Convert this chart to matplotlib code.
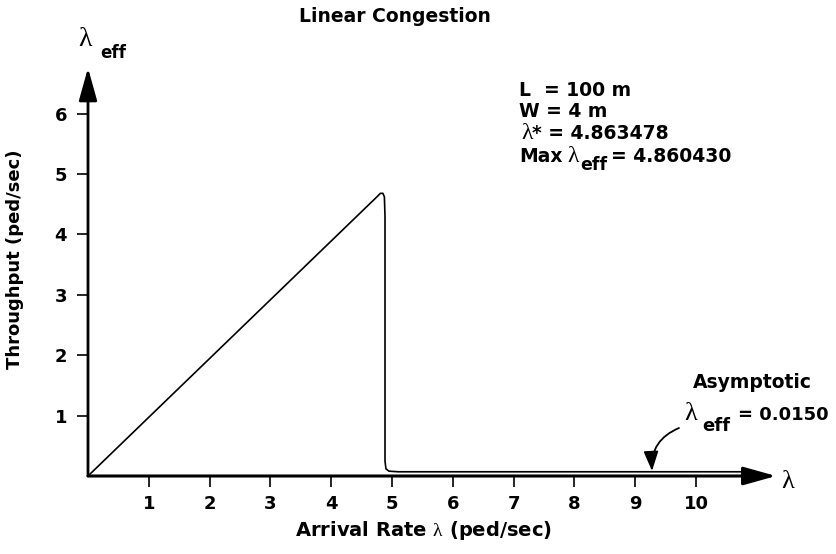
import numpy as np
import matplotlib.pyplot as plt

plt.rcParams['font.family'] = ['DejaVu Sans']
plt.rcParams['mathtext.fontset'] = 'custom'
plt.rcParams['mathtext.rm'] = 'Liberation Serif'
plt.rcParams['mathtext.it'] = 'Liberation Serif'
plt.rcParams['mathtext.default'] = 'rm'

# throughput curve
arrival = [0, 4.75, 4.81, 4.85, 4.875, 4.885, 4.885, 4.9, 4.95, 5.1, 10.9]
throughput = [0, 4.62, 4.68, 4.68, 4.62, 4.3, 0.25, 0.12, 0.08, 0.07, 0.07]

x_ticks = [1, 2, 3, 4, 5, 6, 7, 8, 9, 10]
y_ticks = [1, 2, 3, 4, 5, 6]

W, H = 837, 554
X0, Y0, SX, SY = 88, 476, 60.8, 60.4  # pixel origin and px per unit


def px(x, y):
    # pixel position -> data position (axes fill the whole figure)
    return (x - X0) / SX, (Y0 - y) / SY


fig = plt.figure(figsize=(W / 100, H / 100), dpi=100)
ax = fig.add_axes([0, 0, 1, 1])
ax.set_xlim(px(0, 0)[0], px(W, 0)[0])
ax.set_ylim(px(0, H)[1], px(0, 0)[1])

for s in ['top', 'right']:
    ax.spines[s].set_visible(False)
for s in ['left', 'bottom']:
    ax.spines[s].set_position(('data', 0))
    ax.spines[s].set_color('none')

ax.set_xticks(x_ticks)
ax.set_yticks(y_ticks)
ax.tick_params(axis='x', direction='out', length=8, width=1.2, pad=6, labelsize=13)
ax.tick_params(axis='y', direction='out', length=8, width=1.2, pad=7, labelsize=13)
for lab in ax.get_xticklabels() + ax.get_yticklabels():
    lab.set_fontweight('bold')

# axes with arrow heads
head = '-|>,head_length=1.0,head_width=0.28'
ax.annotate('', xy=px(776, 476), xytext=(0, 0),
            arrowprops=dict(arrowstyle=head, lw=2.2, color='black',
                            mutation_scale=20, shrinkA=0, shrinkB=0))
ax.annotate('', xy=px(88, 68), xytext=(0, 0),
            arrowprops=dict(arrowstyle=head, lw=2.0, color='black',
                            mutation_scale=20, shrinkA=0, shrinkB=0))

ax.plot(arrival, throughput, color='black', lw=1.2)

serif = ['Liberation Serif', 'DejaVu Serif']


def word(x, base, s, size):
    # bold sans text, left end and baseline given in pixels
    ax.text(*px(x, base), s, fontsize=size, fontweight='bold',
            ha='left', va='baseline')


def lam(x, base, size):
    ax.text(*px(x, base), 'λ', fontsize=size, family=serif,
            ha='left', va='baseline')


# axis end labels
lam(781, 488, 19)
lam(78, 46, 20)
word(100, 58, 'eff', 12)

ax.text(*px(395, 17), 'Linear Congestion', fontsize=13.5, fontweight='bold',
        ha='center', va='center')
ax.text(*px(15, 259), 'Throughput (ped/sec)', fontsize=13, fontweight='bold',
        rotation=90, ha='center', va='center')
ax.text(*px(423, 530), r'Arrival Rate $\lambda$ (ped/sec)', fontsize=14,
        fontweight='bold', ha='center', va='center')

# parameter block
word(519, 96, 'L  = 100 m', 13.5)
word(519, 117, 'W = 4 m', 13.5)
lam(521, 139, 17)
word(532, 139, '* = 4.863478', 13.5)
word(519, 162, 'Max', 13.5)
lam(567, 162, 17)
word(580, 170, 'eff', 12.5)
word(611, 162, '= 4.860430', 13.5)

# asymptote note
ax.text(*px(752, 383), 'Asymptotic', fontsize=13.5, fontweight='bold',
        ha='center', va='center')
lam(684, 420, 19)
word(702, 431, 'eff', 13)
word(738, 420, '= 0.0150', 13)
ax.annotate('', xy=px(652, 471), xytext=px(679, 428),
            arrowprops=dict(arrowstyle='-|>,head_length=1.2,head_width=0.45',
                            lw=1.3, color='black', mutation_scale=10,
                            shrinkA=0, shrinkB=0,
                            connectionstyle='arc3,rad=0.35'))

fig.savefig('out.png', dpi=100)
